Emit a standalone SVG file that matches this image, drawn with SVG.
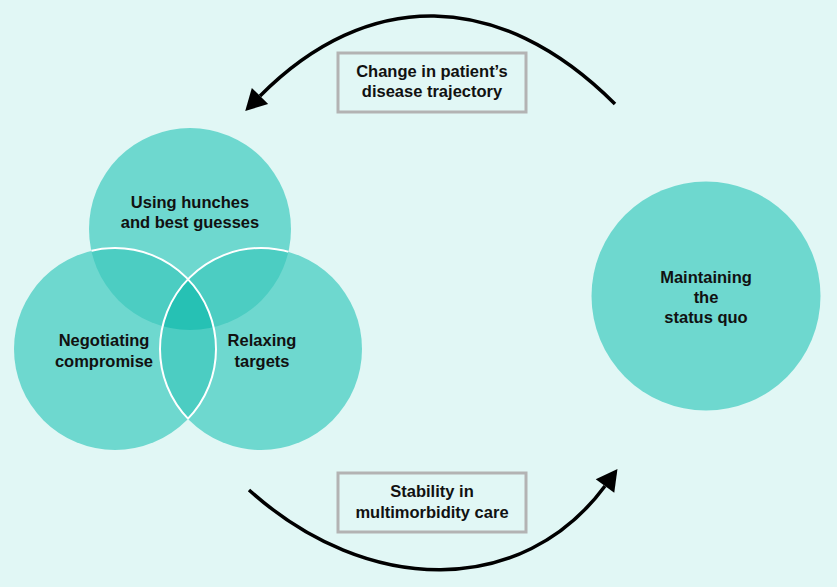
<svg xmlns="http://www.w3.org/2000/svg" width="837" height="587" viewBox="0 0 837 587">
  <style>
    .bg { fill: #e1f7f5; }
    .circ { fill: #6ed8cf; }
    .pair { fill: #4ccdc2; }
    .triple { fill: #26c1b4; }
    .seam { fill: none; stroke: #ffffff; stroke-width: 2; }
    .lbl { font-family: "Liberation Sans", Arial, sans-serif; font-weight: bold; font-size: 16.5px; fill: #111111; text-anchor: middle; }
    .box { fill: #e1f7f5; stroke: #b3b3b3; stroke-width: 3; }
    .arc { fill: none; stroke: #000000; stroke-width: 3.5; marker-end: url(#head); }
  </style>
  <defs>
    <marker id="head" markerUnits="userSpaceOnUse" markerWidth="22" markerHeight="24" refX="0" refY="11.5" orient="auto" overflow="visible">
      <path d="M0,0 L21,11.5 L0,23 Z" fill="#000000"/>
    </marker>
    <clipPath id="cpTop"><circle cx="190" cy="229" r="101"/></clipPath>
    <clipPath id="cpLeft"><circle cx="115" cy="349" r="101"/></clipPath>
    <clipPath id="cpRight"><circle cx="261" cy="349" r="101"/></clipPath>
    <clipPath id="cpTopRight"><circle cx="190" cy="229" r="101"/><circle cx="261" cy="349" r="101"/></clipPath>
    <clipPath id="cpTopLeft"><circle cx="190" cy="229" r="101"/><circle cx="115" cy="349" r="101"/></clipPath>
  </defs>

  <rect class="bg" x="0" y="0" width="837" height="587"/>

  <g id="node-hunches">
    <circle class="circ" cx="190" cy="229" r="101"/>
    <text class="lbl" x="190" y="208">Using hunches</text>
    <text class="lbl" x="190" y="228">and best guesses</text>
  </g>
  <g id="node-negotiating">
    <circle class="circ" cx="115" cy="349" r="101"/>
    <text class="lbl" x="104" y="346">Negotiating</text>
    <text class="lbl" x="104" y="367">compromise</text>
  </g>
  <g id="node-relaxing">
    <circle class="circ" cx="261" cy="349" r="101"/>
    <text class="lbl" x="262" y="346">Relaxing</text>
    <text class="lbl" x="262" y="367">targets</text>
  </g>

  <g id="overlaps">
    <g clip-path="url(#cpTop)"><circle class="pair" cx="115" cy="349" r="101"/></g>
    <g clip-path="url(#cpTop)"><circle class="pair" cx="261" cy="349" r="101"/></g>
    <g clip-path="url(#cpLeft)"><circle class="pair" cx="261" cy="349" r="101"/></g>
    <g clip-path="url(#cpTop)"><g clip-path="url(#cpLeft)"><circle class="triple" cx="261" cy="349" r="101"/></g></g>
    <g clip-path="url(#cpTopRight)"><circle class="seam" cx="115" cy="349" r="101"/></g>
    <g clip-path="url(#cpTopLeft)"><circle class="seam" cx="261" cy="349" r="101"/></g>
  </g>

  <g id="node-status-quo">
    <circle class="circ" cx="706" cy="296" r="114.5"/>
    <text class="lbl" x="706" y="283">Maintaining</text>
    <text class="lbl" x="706" y="303">the</text>
    <text class="lbl" x="706" y="323">status quo</text>
  </g>

  <g id="connectors">
    <path class="arc" d="M615,104 C499,-12 367,-12 260,96"/>
    <path class="arc" d="M249,490 C368,597 523,597 605,486"/>
  </g>

  <g id="label-change">
    <rect class="box" x="338" y="53" width="188" height="59"/>
    <text class="lbl" x="432" y="77">Change in patient’s</text>
    <text class="lbl" x="432" y="97">disease trajectory</text>
  </g>
  <g id="label-stability">
    <rect class="box" x="338" y="473" width="188" height="59"/>
    <text class="lbl" x="432" y="497">Stability in</text>
    <text class="lbl" x="432" y="518">multimorbidity care</text>
  </g>
</svg>
